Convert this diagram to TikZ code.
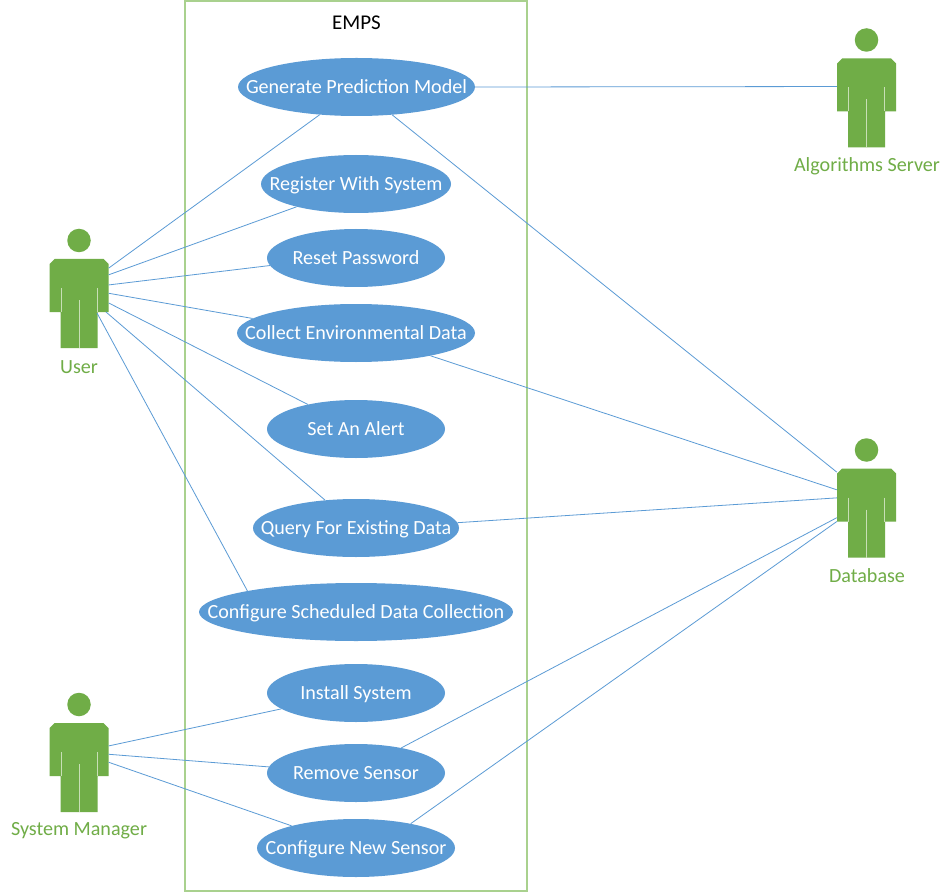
\documentclass[tikz,border=0pt]{standalone}
\usepackage{fontspec}
\setmainfont{Carlito}
\usetikzlibrary{shapes.geometric}
\definecolor{actorgreen}{HTML}{70AD47}
\definecolor{paleline}{HTML}{C8DFB6}
\definecolor{framegreen}{HTML}{A9D18E}
\definecolor{caseblue}{HTML}{5B9BD5}
\newcommand{\ctext}[1]{\makebox[0pt]{\raisebox{-0.65ex}[0pt][0pt]{#1}}}
\tikzset{
  usecase/.style={ellipse,fill=caseblue,draw=none,inner sep=0pt,minimum height=58pt,text=white,font=\fontsize{20.1}{22}\selectfont},
  link/.style={draw=caseblue,line width=0.8pt},
  actorbox/.style={rectangle,draw=none,inner sep=0pt,minimum width=59pt,minimum height=89pt},
  actorname/.style={text=actorgreen,font=\fontsize{20.1}{22}\selectfont,inner sep=0pt},
  actorhead/.style={circle,fill=actorgreen,inner sep=0pt,minimum size=23.5pt},
  figure/.pic={
    \fill[actorgreen] (-24.5,-44.5) -- (24.5,-44.5) -- (29.5,-39.5) -- (29.5,8.5) -- (18.5,8.5) -- (18.5,44.5) -- (-18.5,44.5) -- (-18.5,8.5) -- (-29.5,8.5) -- (-29.5,-39.5) -- cycle;
    \draw[paleline,line width=1pt] (-18,-15.5) -- (-18,8.5);
    \draw[paleline,line width=1pt] (18,-15.5) -- (18,8.5);
    \draw[paleline,line width=1pt] (0,-3.5) -- (0,44.5);
  }
}
\begin{document}
\begin{tikzpicture}[x=1pt,y=-1pt]
\useasboundingbox (0,0) rectangle (950,893);
\fill[white] (0,0) rectangle (950,893);
\node[rectangle,draw=framegreen,line width=1.2pt,minimum width=342pt,minimum height=890pt,inner sep=0pt] (frame) at (356,446) {};
\node[inner sep=0pt,font=\fontsize{21}{23}\selectfont] (title) at (356.5,23) {EMPS};

\node[usecase,minimum width=237pt] (gpm) at (356.5,87) {\ctext{Generate Prediction Model}};
\node[usecase,minimum width=190pt] (reg) at (356,184) {\ctext{Register With System}};
\node[usecase,minimum width=178pt] (rst) at (356,258) {\ctext{Reset Password}};
\node[usecase,minimum width=238pt] (col) at (356,333) {\ctext{Collect Environmental Data}};
\node[usecase,minimum width=178pt] (alr) at (356,429) {\ctext{Set An Alert}};
\node[usecase,minimum width=206pt] (qry) at (356,528) {\ctext{Query For Existing Data}};
\node[usecase,minimum width=314pt] (sch) at (356,612) {\ctext{Configure Scheduled Data Collection}};
\node[usecase,minimum width=178pt] (ins) at (356,693) {\ctext{Install System}};
\node[usecase,minimum width=178pt] (rem) at (356,773) {\ctext{Remove Sensor}};
\node[usecase,minimum width=198pt] (cfg) at (356,848) {\ctext{Configure New Sensor}};

\node[actorbox] (user) at (79,303.5) {};
\pic at (79,303.5) {figure};
\node[actorhead] (userh) at (79,240.5) {};
\node[actorname] (usern) at (79,367) {User};

\node[actorbox] (mgr) at (79,767.5) {};
\pic at (79,767.5) {figure};
\node[actorhead] (mgrh) at (79,704.5) {};
\node[actorname] (mgrn) at (79,831) {System Manager};

\node[actorbox] (alg) at (866.5,103) {};
\pic at (866.5,103) {figure};
\node[actorhead] (algh) at (866.5,40) {};
\node[actorname] (algn) at (867,166) {Algorithms Server};

\node[actorbox] (db) at (866.5,513) {};
\pic at (866.5,513) {figure};
\node[actorhead] (dbh) at (866.5,450) {};
\node[actorname] (dbn) at (867,576) {Database};

\coordinate (userarm) at (106,312);
\coordinate (userleg) at (97,313);

\draw[link] (user.50) -- (gpm.217.9);
\draw[link] (user.44) -- (reg.201.6);
\draw[link] (user.32.1) -- (rst.185.8);
\draw[link] (user.19.6) -- (col.172);
\draw[link] (user.1) -- (alr.153.9);
\draw[link] (userarm) -- (qry.138);
\draw[link] (userleg) -- (sch.169);
\draw[link] (mgr.36.1) -- (ins.192.2);
\draw[link] (mgr.24.6) -- (rem.176);
\draw[link] (mgr.10.6) -- (cfg.161.3);
\draw[link] (gpm.east) -- (alg.151.5);
\draw[link] (gpm.-38.7) -- (db.126.9);
\draw[link] (col.-17.3) -- (db.142.5);
\draw[link] (qry.3.9) -- (db.153.4);
\draw[link] (rem.29) -- (db.189.5);
\draw[link] (cfg.24.3) -- (db.196.7);
\end{tikzpicture}
\end{document}
